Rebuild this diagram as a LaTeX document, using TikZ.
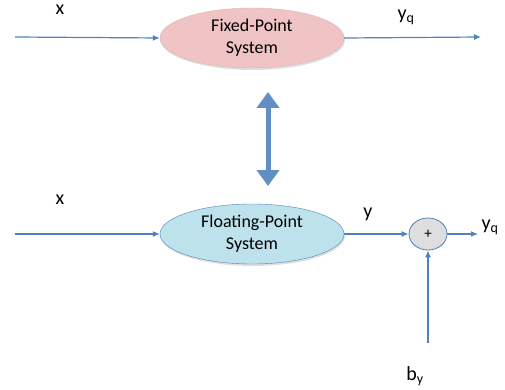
\documentclass[tikz,border=0pt]{standalone}
\usepackage{fontspec}
\setmainfont{Carlito}
\usetikzlibrary{arrows.meta,shapes.geometric,shadows}
\definecolor{lblue}{RGB}{79,129,189}
\definecolor{pinkf}{RGB}{240,196,196}
\definecolor{bluef}{RGB}{190,226,236}
\definecolor{grayf}{RGB}{222,222,222}
\begin{document}
\begin{tikzpicture}[x=1pt,y=-1pt,
  sysbox/.style={ellipse,minimum width=184pt,minimum height=60pt,inner sep=0pt,align=center,font=\fontsize{18}{22}\selectfont,drop shadow={shadow xshift=1pt,shadow yshift=-2pt,opacity=0.25}},
  sig/.style={draw=lblue,line width=1.2pt,-{Latex[length=7pt,width=6pt]}},
  lab/.style={font=\fontsize{20}{22}\selectfont,inner sep=0pt}]
\useasboundingbox (0,0) rectangle (505,390);
\node[sysbox,fill=pinkf,draw=pinkf!80!gray] (fix) at (252,38) {Fixed-Point\\System};
\node[sysbox,fill=bluef,draw=lblue] (flt) at (252,234) {Floating-Point\\System};
\node[ellipse,minimum width=38pt,minimum height=32pt,inner sep=0pt,fill=grayf,draw=lblue,line width=0.8pt,font=\fontsize{15}{17}\selectfont] (sum) at (428,234) {+};
\coordinate (in1) at (15,37);
\coordinate (out1) at (481,37);
\coordinate (in2) at (15,234);
\coordinate (out2) at (478,234);
\coordinate (bin) at (428,343);
\coordinate (da) at (268,92);
\coordinate (db) at (268,186);
\draw[sig] (in1) -- (fix.west);
\draw[sig] (fix.east) -- (out1);
\draw[sig] (in2) -- (flt.west);
\draw[sig] (flt.east) -- (sum.west);
\draw[sig] (sum.east) -- (out2);
\draw[sig] (bin) -- (sum.south);
\draw[draw=lblue!90!white,line width=5pt,{Triangle[length=16pt,width=22pt,sep=0pt]}-{Triangle[length=16pt,width=22pt]}] (da) -- (db);
\node[lab] (lx1) at (60,10) {x};
\node[lab] (ly1) at (406,17) {y\textsubscript{q}};
\node[lab] (lx2) at (60,200) {x};
\node[lab] (ly2) at (368,214) {y};
\node[lab] (ly3) at (490,227) {y\textsubscript{q}};
\node[lab] (lb) at (415,376) {b\textsubscript{y}};
\end{tikzpicture}
\end{document}
